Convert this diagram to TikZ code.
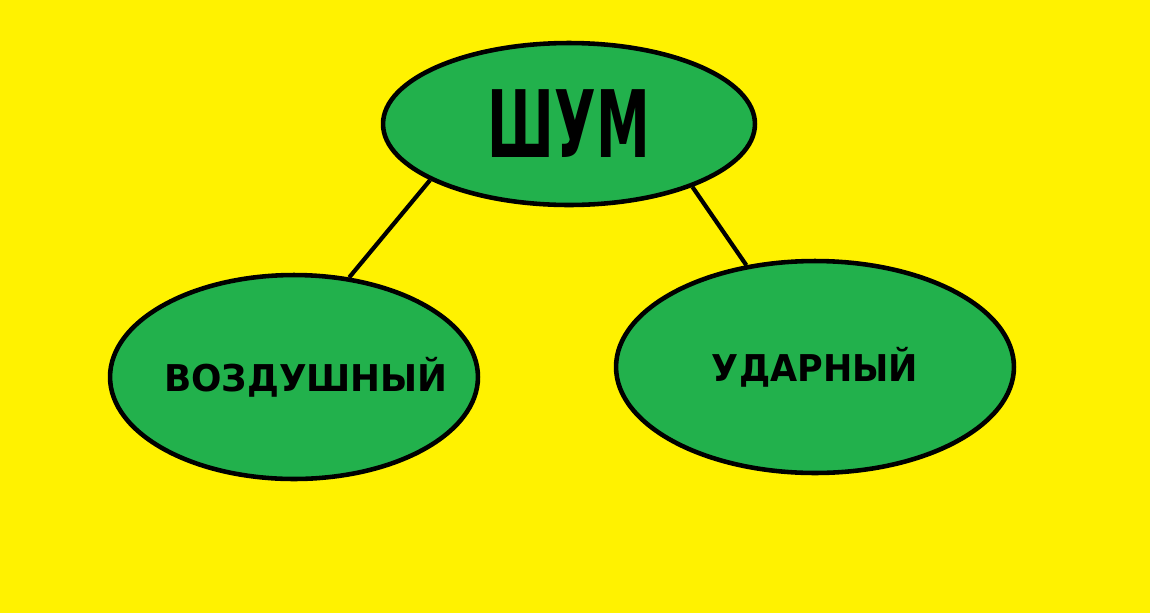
\documentclass[tikz,border=0pt]{standalone}
\usepackage{fontspec}
\setmainfont{DejaVu Sans}
\usetikzlibrary{shapes.geometric}
\usepackage{xcolor}
\definecolor{paintyellow}{HTML}{FFF200}
\definecolor{paintgreen}{HTML}{22B14C}

\tikzset{
  blob/.style={ellipse, draw=black, line width=2.6pt, fill=paintgreen, inner sep=0pt},
  link/.style={black, line width=2.4pt}
}

\begin{document}
\begin{tikzpicture}[x=0.02cm,y=-0.02cm]
      % Background
      \fill[paintyellow] (0,0) rectangle (1150,613);
      \useasboundingbox (0,0) rectangle (1150,613);

      % Ellipses
      \node[blob, minimum width=7.44cm, minimum height=3.24cm] (noise) at (569,124)
        {\scalebox{0.58}[1]{\bfseries\fontsize{53}{53}\selectfont ШУМ}};
      \node[blob, minimum width=7.36cm, minimum height=4.08cm] (air) at (294,377)
        {\makebox[0pt][c]{\hspace{0.48cm}\scalebox{0.97}[1]{\bfseries\fontsize{21}{21}\selectfont ВОЗДУШНЫЙ}}};
      \node[blob, minimum width=7.96cm, minimum height=4.24cm] (impact) at (815,367)
        {\scalebox{0.95}[1]{\bfseries\fontsize{21}{21}\selectfont УДАРНЫЙ}};

      % Connectors
      \draw[link] (noise.202) -- (air.61);
      \draw[link] (noise.333) -- (impact.124);

\end{tikzpicture}
\end{document}
